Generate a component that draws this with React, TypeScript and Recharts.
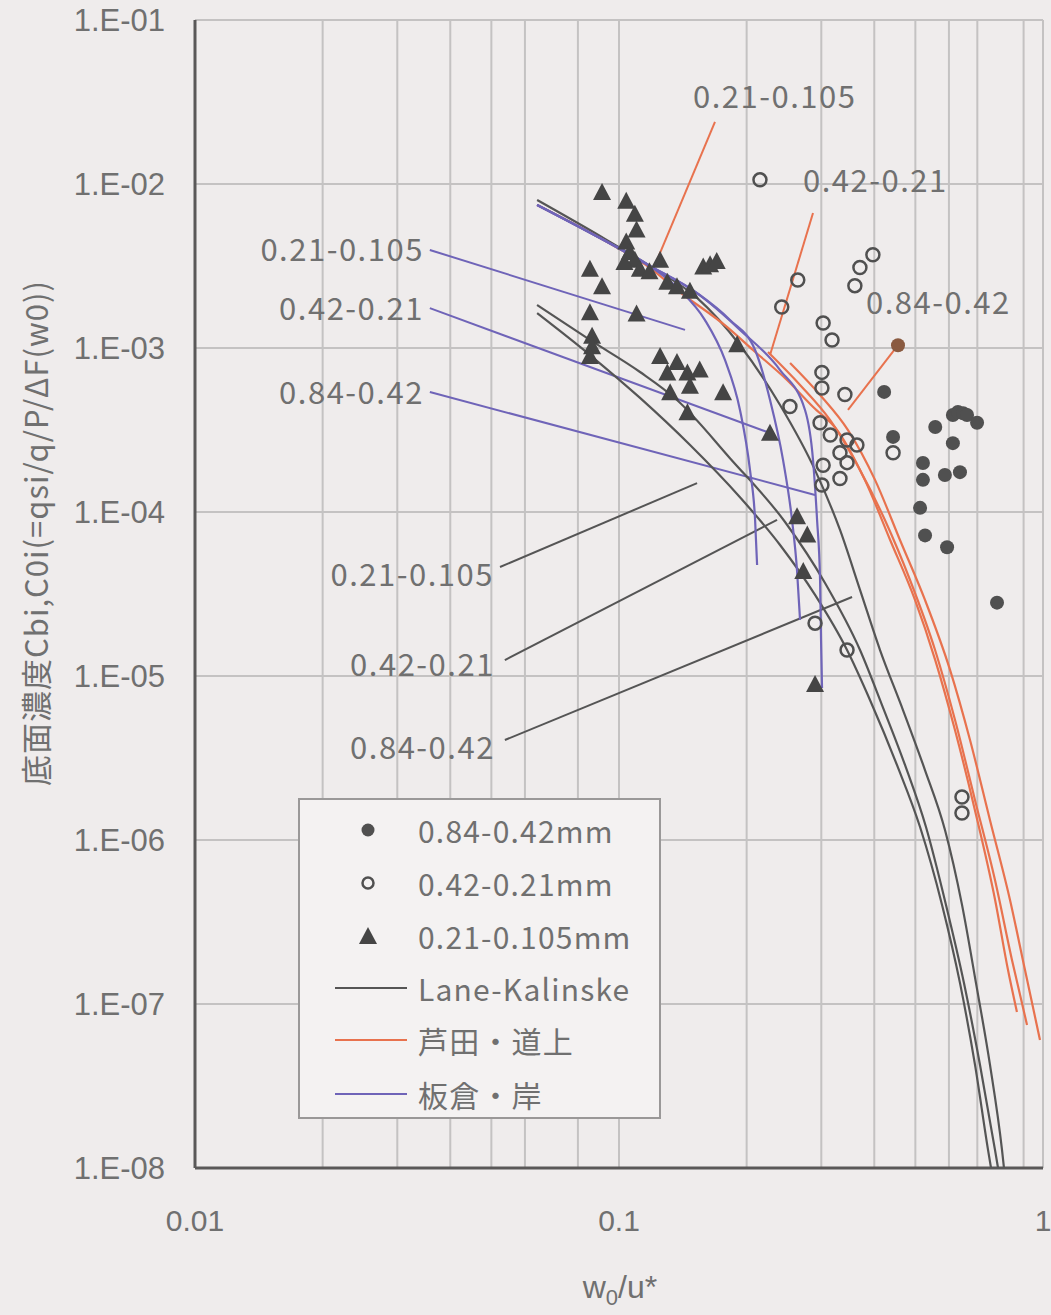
import React from 'react';
import {
  ComposedChart,
  Scatter,
  XAxis,
  YAxis,
  CartesianGrid,
  ReferenceLine,
  ReferenceDot,
} from 'recharts';

// measured points, [w0/u*, concentration]
const coarse: [number, number][] = [
  [0.455, 1.04e-3], [0.422, 5.4e-4], [0.443, 2.87e-4], [0.557, 3.3e-4], [0.613, 3.9e-4],
  [0.63, 4.07e-4], [0.648, 4.0e-4], [0.662, 3.9e-4], [0.699, 3.5e-4], [0.613, 2.63e-4],
  [0.521, 1.99e-4], [0.521, 1.57e-4], [0.587, 1.68e-4], [0.637, 1.75e-4], [0.513, 1.06e-4],
  [0.527, 7.2e-5], [0.594, 6.1e-5], [0.779, 2.8e-5],
];

const medium: [number, number][] = [
  [0.215, 1.06e-2], [0.264, 2.6e-3], [0.242, 1.78e-3], [0.303, 1.42e-3], [0.318, 1.12e-3],
  [0.397, 3.7e-3], [0.37, 3.1e-3], [0.36, 2.4e-3], [0.301, 7.1e-4], [0.301, 5.7e-4],
  [0.341, 5.2e-4], [0.253, 4.4e-4], [0.298, 3.5e-4], [0.315, 2.95e-4], [0.345, 2.75e-4],
  [0.364, 2.56e-4], [0.332, 2.3e-4], [0.345, 2.0e-4], [0.303, 1.93e-4], [0.332, 1.6e-4],
  [0.301, 1.46e-4], [0.443, 2.3e-4], [0.29, 2.1e-5], [0.345, 1.44e-5], [0.644, 1.83e-6],
  [0.644, 1.46e-6],
];

const fine: [number, number][] = [
  [0.0912, 8.8e-3], [0.104, 7.8e-3], [0.109, 6.5e-3], [0.11, 5.2e-3], [0.104, 4.4e-3],
  [0.106, 3.8e-3], [0.109, 3.4e-3], [0.112, 3.0e-3], [0.118, 2.9e-3], [0.103, 3.3e-3],
  [0.0854, 3.0e-3], [0.0912, 2.35e-3], [0.11, 1.6e-3], [0.0854, 1.63e-3], [0.0864, 1.17e-3],
  [0.0864, 1.01e-3], [0.0854, 8.8e-4], [0.125, 3.4e-3], [0.13, 2.5e-3], [0.137, 2.35e-3],
  [0.147, 2.2e-3], [0.158, 3.1e-3], [0.164, 3.2e-3], [0.17, 3.35e-3], [0.19, 1.04e-3],
  [0.125, 8.8e-4], [0.13, 7.0e-4], [0.137, 8.1e-4], [0.145, 7.0e-4], [0.155, 7.3e-4],
  [0.132, 5.3e-4], [0.147, 5.8e-4], [0.145, 4.0e-4], [0.176, 5.3e-4], [0.227, 3.0e-4],
  [0.263, 9.3e-5], [0.278, 7.2e-5], [0.272, 4.3e-5], [0.29, 8.8e-6],
];

// Lane-Kalinske curves
const lkFine: [number, number][] = [
  [0.0641, 1.63e-3], [0.0854, 9.06e-4], [0.1121, 4.96e-4], [0.1471, 2.56e-4], [0.1929, 1.23e-4],
  [0.2398, 6.29e-5], [0.29, 3.12e-5], [0.345, 1.44e-5], [0.3908, 7.14e-6], [0.4524, 2.87e-6],
  [0.5129, 1.2e-6], [0.578, 4.02e-7], [0.6372, 1.34e-7], [0.6913, 4.25e-8], [0.7419, 1.29e-8],
  [0.7541, 1e-8],
];
const lkMedium: [number, number][] = [
  [0.0641, 1.83e-3], [0.0854, 1.12e-3], [0.1121, 7.14e-4], [0.137, 4.82e-4], [0.1827, 2.13e-4],
  [0.2464, 8.69e-5], [0.3061, 3.69e-5], [0.3702, 1.44e-5], [0.4172, 6.65e-6], [0.4726, 2.87e-6],
  [0.5297, 1.2e-6], [0.5905, 4.02e-7], [0.6512, 1.34e-7], [0.7103, 4.25e-8], [0.7705, 1.29e-8],
  [0.7834, 1e-8],
];
const lkCoarse: [number, number][] = [
  [0.0641, 7.99e-3], [0.0902, 4.82e-3], [0.1183, 3.16e-3], [0.1528, 2.02e-3], [0.1929, 1.04e-3],
  [0.2398, 4.49e-4], [0.29, 1.8e-4], [0.3321, 7.77e-5], [0.3702, 3.35e-5], [0.4127, 1.44e-5],
  [0.4675, 6.2e-6], [0.5268, 2.67e-6], [0.5873, 1.15e-6], [0.6442, 4.02e-7], [0.695, 1.34e-7],
  [0.7499, 4.25e-8], [0.8004, 1.29e-8], [0.8091, 1e-8],
];

// 芦田・道上
const amFine: [number, number][] = [
  [0.0641, 7.45e-3], [0.0902, 4.68e-3], [0.1183, 3.08e-3], [0.137, 2.26e-3], [0.18, 1.34e-3],
  [0.207, 9.72e-4], [0.249, 6.38e-4], [0.287, 4.37e-4], [0.327, 3.16e-4], [0.38, 1.57e-4],
  [0.436, 6.75e-5], [0.499, 2.91e-5], [0.557, 1.25e-5], [0.62, 4.68e-6], [0.691, 1.52e-6],
  [0.771, 4.31e-7], [0.827, 1.61e-7], [0.868, 8.94e-8],
];
const amMedium: [number, number][] = [
  [0.2246, 9.45e-4], [0.2673, 5.95e-4], [0.3145, 3.64e-4], [0.3702, 1.8e-4], [0.4238, 8.94e-5],
  [0.4857, 3.85e-5], [0.5565, 1.44e-5], [0.6202, 5.39e-6], [0.6913, 1.75e-6], [0.7705, 5.7e-7],
  [0.8452, 1.85e-7], [0.9169, 7.45e-8],
];
const amCoarse: [number, number][] = [
  [0.2532, 8.1e-4], [0.298, 5.17e-4], [0.3468, 3.16e-4], [0.4016, 1.57e-4], [0.4599, 6.75e-5],
  [0.5268, 2.91e-5], [0.6036, 1.09e-5], [0.6728, 4.07e-6], [0.7499, 1.32e-6], [0.836, 4.31e-7],
  [0.9069, 1.61e-7], [0.9838, 6.03e-8],
];

// 板倉・岸
const ikFine: [number, number][] = [
  [0.0641, 7.45e-3], [0.0902, 4.68e-3], [0.1183, 3.16e-3], [0.1392, 2.26e-3], [0.1595, 1.48e-3],
  [0.1778, 8.45e-4], [0.1929, 4.19e-4], [0.2037, 1.8e-4], [0.2094, 8.94e-5], [0.2117, 4.75e-5],
];
const ikMedium: [number, number][] = [
  [0.0641, 7.45e-3], [0.0902, 4.68e-3], [0.1183, 3.16e-3], [0.1528, 2.16e-3], [0.1827, 1.48e-3],
  [0.2094, 9.72e-4], [0.2271, 4.82e-4], [0.2437, 2.08e-4], [0.2559, 8.94e-5], [0.2629, 4.43e-5],
  [0.2673, 2.2e-5],
];
const ikCoarse: [number, number][] = [
  [0.0641, 7.45e-3], [0.0902, 4.68e-3], [0.1183, 3.16e-3], [0.1528, 2.16e-3], [0.1929, 1.29e-3],
  [0.2398, 7.34e-4], [0.2746, 4.19e-4], [0.2868, 2.08e-4], [0.2932, 8.94e-5], [0.298, 3.85e-5],
  [0.2996, 1.66e-5], [0.3012, 8.45e-6],
];

// leader lines: [x1, y1, x2, y2]
const ikLeaders: [number, number, number, number][] = [
  [0.0358, 3.96e-3, 0.1431, 1.29e-3],
  [0.0358, 1.75e-3, 0.2271, 3.03e-4],
  [0.0358, 5.39e-4, 0.29, 1.27e-4],
];
const lkLeaders: [number, number, number, number][] = [
  [0.0524, 4.62e-5, 0.1528, 1.5e-4],
  [0.0538, 1.25e-5, 0.2359, 8.94e-5],
  [0.0538, 4.07e-6, 0.3545, 3.03e-5],
];
const amLeaders: [number, number, number, number][] = [
  [0.1684, 2.39e-2, 0.1216, 3.21e-3],
  [0.2868, 6.65e-3, 0.2271, 9.06e-4],
  [0.455, 1.04e-3, 0.3468, 4.19e-4],
];
const classLabels = ['0.21-0.105', '0.42-0.21', '0.84-0.42'];
const legendLabels = ['0.84-0.42mm', '0.42-0.21mm', '0.21-0.105mm', 'Lane-Kalinske', '芦田・道上', '板倉・岸'];

const xTicks = [0.01, 0.1, 1];
const yTicks = [1e-8, 1e-7, 1e-6, 1e-5, 1e-4, 1e-3, 1e-2, 1e-1];
const xGrid = [0.02, 0.03, 0.04, 0.05, 0.06, 0.07, 0.08, 0.09, 0.1, 0.2, 0.3, 0.4, 0.5, 0.6, 0.7, 0.8, 0.9, 1];
const yGrid = [1e-7, 1e-6, 1e-5, 1e-4, 1e-3, 1e-2, 1e-1];

const GRAY = '#555555';
const RED = '#e8724e';
const BLUE = '#6f64b8';
const TEXT = '#707070';
const JP = '"Noto Sans CJK JP", "Noto Sans", sans-serif';

const pts = (a: [number, number][]) => a.map(([x, y]) => ({ x, y }));

const FilledDot = (p: any) => <circle cx={p.cx} cy={p.cy} r={7} fill={p.payload.x === 0.455 ? '#8a5a40' : '#505050'} />;
const OpenDot = (p: any) => <circle cx={p.cx} cy={p.cy} r={6.5} fill="none" stroke="#505050" strokeWidth={2.5} />;
const Tri = (p: any) => (
  <path d={`M${p.cx},${p.cy - 10} L${p.cx + 9},${p.cy + 7} L${p.cx - 9},${p.cy + 7} Z`} fill="#454545" />
);
const NoDot = () => <g />;

const yFmt = (v: number) => `1.E-0${Math.round(-Math.log10(v))}`;
const xFmt = (v: number) => (v === 1 ? '1' : String(v));

function Tag({ viewBox, text, dx, dy, anchor }: any) {
  return (
    <text
      x={viewBox.x + 1 + dx}
      y={viewBox.y + 1 + dy}
      textAnchor={anchor}
      dominantBaseline="central"
      fill={TEXT}
      fontSize={31}
      letterSpacing={1.5}
      fontFamily={JP}
    >
      {text}
    </text>
  );
}

const tagOffsets = {
  ik: [[-6, -2], [-6, -2], [-6, -2]],
  lk: [[-6, 6], [-10, 2], [-10, 5]],
  am: [[-22, -27], [-10, -35], [-32, -45]],
};

export default function App() {
  const curves: [[number, number][], string][] = [
    [lkFine, GRAY], [lkMedium, GRAY], [lkCoarse, GRAY],
    [amFine, RED], [amMedium, RED], [amCoarse, RED],
    [ikFine, BLUE], [ikMedium, BLUE], [ikCoarse, BLUE],
  ];
  const leaders: [[number, number, number, number][], string, string][] = [
    [ikLeaders, BLUE, 'ik'], [lkLeaders, GRAY, 'lk'], [amLeaders, RED, 'am'],
  ];

  return (
    <div style={{ position: 'absolute', left: 0, top: 0, width: 1051, height: 1315, background: '#efecec', overflow: 'hidden' }}>
      <ComposedChart width={1051} height={1315} margin={{ top: 20, right: 8, bottom: 87, left: 0 }}>
        <CartesianGrid
          stroke="#c4c2c2"
          strokeWidth={2}
          horizontalValues={yGrid}
          verticalValues={xGrid}
        />
        <XAxis
          dataKey="x"
          type="number"
          scale="log"
          domain={[0.01, 1]}
          allowDataOverflow
          ticks={xTicks}
          tickFormatter={xFmt}
          height={60}
          tickSize={0}
          tickMargin={42}
          axisLine={{ stroke: '#5a5858', strokeWidth: 3 }}
          tick={{ fill: TEXT, fontSize: 30, fontFamily: 'Liberation Sans, Arial, sans-serif' }}
        />
        <YAxis
          dataKey="y"
          type="number"
          scale="log"
          domain={[1e-8, 1e-1]}
          allowDataOverflow
          ticks={yTicks}
          tickFormatter={yFmt}
          width={195}
          tickSize={0}
          tickMargin={30}
          axisLine={{ stroke: '#5a5858', strokeWidth: 3 }}
          tick={{ fill: TEXT, fontSize: 31, fontFamily: 'Liberation Sans, Arial, sans-serif' }}
        />

        {leaders.map(([set, color, key]) =>
          set.map(([x1, y1, x2, y2], i) => (
            <ReferenceLine
              key={`${key}-${i}`}
              segment={[{ x: x1, y: y1 }, { x: x2, y: y2 }]}
              stroke={color}
              strokeWidth={2}
              ifOverflow="visible"
            />
          ))
        )}

        {curves.map(([data, color], i) => (
          <Scatter
            key={`curve-${i}`}
            data={pts(data)}
            line={{ stroke: color, strokeWidth: 2.2 }}
            lineJointType="monotoneX"
            shape={NoDot}
            isAnimationActive={false}
          />
        ))}

        <Scatter data={pts(coarse)} shape={FilledDot} isAnimationActive={false} />
        <Scatter data={pts(medium)} shape={OpenDot} isAnimationActive={false} />
        <Scatter data={pts(fine)} shape={Tri} isAnimationActive={false} />

        {leaders.map(([set, , key]) =>
          set.map(([x1, y1], i) => {
            const [dx, dy] = (tagOffsets as any)[key][i];
            return (
              <ReferenceDot
                key={`tag-${key}-${i}`}
                x={x1}
                y={y1}
                r={1}
                fill="none"
                stroke="none"
                ifOverflow="visible"
                label={<Tag text={classLabels[i]} dx={dx} dy={dy} anchor={key === 'am' ? 'start' : 'end'} />}
              />
            );
          })
        )}
      </ComposedChart>

      <div
        style={{
          position: 'absolute', left: 34, top: 533, transform: 'translate(-50%, -50%) rotate(-90deg)',
          whiteSpace: 'nowrap', color: TEXT, fontSize: 31, fontFamily: JP, letterSpacing: 1,
        }}
      >
        底面濃度Cbi,C0i(=qsi/q/P/ΔF(w0))
      </div>
      <div
        style={{
          position: 'absolute', left: 620, top: 1290, transform: 'translate(-50%, -50%)',
          whiteSpace: 'nowrap', color: TEXT, fontSize: 32, fontFamily: 'Liberation Sans, Arial, sans-serif',
        }}
      >
        w<sub style={{ fontSize: 22 }}>0</sub>/u*
      </div>

      <svg style={{ position: 'absolute', left: 298, top: 798 }} width={364} height={322}>
        <rect x={1} y={1} width={361} height={319} fill="#f4f2f2" stroke="#9a9898" strokeWidth={2} />
        <circle cx={70} cy={32} r={6.5} fill="#505050" />
        <circle cx={70} cy={85} r={5.5} fill="none" stroke="#505050" strokeWidth={2.5} />
        <path d="M70,129 L79,146 L61,146 Z" fill="#454545" />
        <line x1={37} x2={109} y1={190} y2={190} stroke={GRAY} strokeWidth={2} />
        <line x1={37} x2={109} y1={242} y2={242} stroke={RED} strokeWidth={2} />
        <line x1={37} x2={109} y1={296} y2={296} stroke={BLUE} strokeWidth={2} />
        {legendLabels.map((t, i) => (
          <text
            key={t}
            x={120}
            y={[32, 85, 138, 190, 242, 296][i]}
            dominantBaseline="central"
            fill={TEXT}
            fontSize={30}
            letterSpacing={1.2}
            fontFamily={JP}
          >
            {t}
          </text>
        ))}
      </svg>
    </div>
  );
}
